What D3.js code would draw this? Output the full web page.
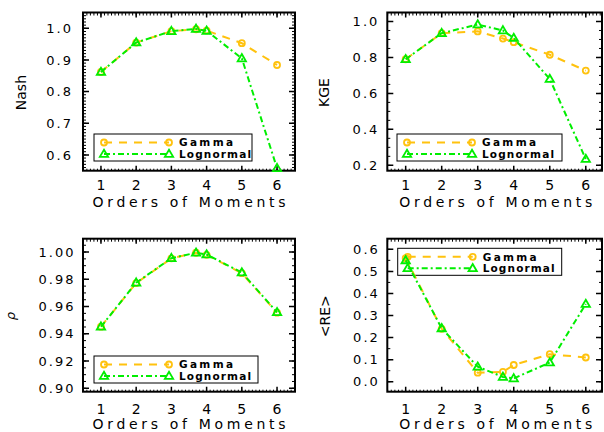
<!DOCTYPE html>
<html>
<head>
<meta charset="utf-8">
<title>Orders of Moments</title>
<script src="https://d3js.org/d3.v7.min.js"></script>
<style>
    body { margin: 0; background: #fff; }
    svg { display: block; font-family: "DejaVu Sans", sans-serif; }
</style>
</head>
<body>
<div id="chart"></div>
<script>
// data
var orders = [1, 2, 3, 3.7, 4, 5, 6];
var xTicks = [1, 2, 3, 4, 5, 6];

var nashGamma     = [0.862, 0.955, 0.991, 0.997, 0.993, 0.953, 0.884];
var nashLognormal = [0.862, 0.955, 0.991, 0.998, 0.992, 0.905, 0.558];
var kgeGamma      = [0.790, 0.935, 0.945, 0.905, 0.885, 0.815, 0.727];
var kgeLognormal  = [0.790, 0.935, 0.983, 0.950, 0.908, 0.680, 0.235];
var rhoGamma      = [0.9452, 0.9772, 0.9954, 0.9995, 0.9980, 0.9845, 0.9555];
var rhoLognormal  = [0.9452, 0.9775, 0.9955, 0.9995, 0.9982, 0.9850, 0.9558];
var reGamma       = [0.560, 0.240, 0.041, 0.045, 0.076, 0.125, 0.110];
var reLognormal   = [0.550, 0.242, 0.068, 0.022, 0.015, 0.087, 0.352];

var nashTicks = [0.6, 0.7, 0.8, 0.9, 1.0];
var kgeTicks  = [0.2, 0.4, 0.6, 0.8, 1.0];
var rhoTicks  = [0.90, 0.92, 0.94, 0.96, 0.98, 1.00];
var reTicks   = [0.0, 0.1, 0.2, 0.3, 0.4, 0.5, 0.6];

var seriesNames = ["Gamma", "Lognormal"];
var gammaColor = "#ffc20e";
var lognColor = "#00ee00";

var width = 604, height = 432;

// panel layout (box in pixels + axis domains)
var panels = [
    { title: "Nash", gamma: nashGamma, logn: nashLognormal, ticks: nashTicks, fmt: ".1f", minor: 10,
      left: 83, right: 295, top: 12.5, bottom: 170.7, xdom: [0.49, 6.51], ydom: [0.55, 1.05],
      labelGap: 10, titleX: 21, titleFont: 14, tickDy: 19.5, xTitleDy: 36, legendTop: 134, legendX: 94, legendW: 158 },
    { title: "KGE", gamma: kgeGamma, logn: kgeLognormal, ticks: kgeTicks, fmt: ".1f", minor: 4,
      left: 387.3, right: 602, top: 12.5, bottom: 170.7, xdom: [0.49, 6.45], ydom: [0.17, 1.05],
      labelGap: 8, titleX: 324, titleFont: 14, tickDy: 19.5, xTitleDy: 36, legendTop: 134, legendX: 397, legendW: 165 },
    { title: "ρ", gamma: rhoGamma, logn: rhoLognormal, ticks: rhoTicks, fmt: ".2f", minor: 4,
      left: 83, right: 295, top: 238.7, bottom: 391.7, xdom: [0.49, 6.51], ydom: [0.8975, 1.0098],
      labelGap: 7.5, titleX: 10, titleFont: 13, italic: true, tickDy: 22.5, xTitleDy: 37.5, legendTop: 356, legendX: 94, legendW: 164 },
    { title: "<RE>", gamma: reGamma, logn: reLognormal, ticks: reTicks, fmt: ".1f", minor: 2,
      left: 387.3, right: 602, top: 238.7, bottom: 391.7, xdom: [0.49, 6.45], ydom: [-0.045, 0.648],
      labelGap: 7.5, titleX: 325, titleFont: 14, tickDy: 22.5, xTitleDy: 37.5, legendTop: 248.3, legendX: 397.7, legendW: 164 }
];

var svg = d3.select("#chart").append("svg")
    .attr("width", width)
    .attr("height", height);

var triangle = d3.symbol().type(d3.symbolTriangle).size(30);

panels.forEach(function(p) {
    var x = d3.scaleLinear().domain(p.xdom).range([p.left, p.right]);
    var y = d3.scaleLinear().domain(p.ydom).range([p.bottom, p.top]);
    var g = svg.append("g");

    // minor ticks
    var yStep = p.ticks[1] - p.ticks[0];
    var yMinor = d3.range(Math.ceil(p.ydom[0] / (yStep / p.minor)), Math.floor(p.ydom[1] / (yStep / p.minor)) + 1)
        .map(function(i) { return i * yStep / p.minor; });
    var xMinor = d3.range(Math.ceil(p.xdom[0] * 10), Math.floor(p.xdom[1] * 10) + 1)
        .map(function(i) { return i / 10; });

    g.selectAll(".ymin").data(yMinor).enter().append("path")
        .attr("d", function(d) {
            var yy = y(d);
            return "M" + p.left + "," + yy + "h3M" + p.right + "," + yy + "h-3";
        })
        .attr("stroke", "#000").attr("stroke-width", 1);
    g.selectAll(".xmin").data(xMinor).enter().append("path")
        .attr("d", function(d) {
            var xx = x(d);
            return "M" + xx + "," + p.top + "v3M" + xx + "," + p.bottom + "v-2";
        })
        .attr("stroke", "#000").attr("stroke-width", 1);

    // major ticks
    g.selectAll(".ymaj").data(p.ticks).enter().append("path")
        .attr("d", function(d) {
            var yy = y(d);
            return "M" + p.left + "," + yy + "h6M" + p.right + "," + yy + "h-6";
        })
        .attr("stroke", "#000").attr("stroke-width", 1.5);
    g.selectAll(".xmaj").data(xTicks).enter().append("path")
        .attr("d", function(d) {
            var xx = x(d);
            return "M" + xx + "," + p.top + "v5M" + xx + "," + p.bottom + "v-5";
        })
        .attr("stroke", "#000").attr("stroke-width", 1.5);

    // frame
    g.append("rect")
        .attr("x", p.left).attr("y", p.top)
        .attr("width", p.right - p.left).attr("height", p.bottom - p.top)
        .attr("fill", "none").attr("stroke", "#000").attr("stroke-width", 2);

    // tick labels
    var fmt = d3.format(p.fmt);
    g.selectAll(".ylab").data(p.ticks).enter().append("text")
        .attr("x", p.left - p.labelGap)
        .attr("y", function(d) { return y(d); })
        .attr("dy", "0.36em")
        .attr("text-anchor", "end")
        .attr("font-size", 13)
        .attr("letter-spacing", 2)
        .text(function(d) { return fmt(d); });
    g.selectAll(".xlab").data(xTicks).enter().append("text")
        .attr("x", function(d) { return x(d); })
        .attr("y", p.bottom + p.tickDy)
        .attr("text-anchor", "middle")
        .attr("font-size", 14)
        .text(function(d) { return d; });

    g.append("text")
        .attr("x", (x(1) + x(6)) / 2)
        .attr("y", p.bottom + p.xTitleDy)
        .attr("text-anchor", "middle")
        .attr("font-size", 14)
        .attr("textLength", 193)
        .attr("lengthAdjust", "spacing")
        .text("Orders of Moments");

    var cy = (p.top + p.bottom) / 2 + 1;
    g.append("text")
        .attr("transform", "translate(" + p.titleX + "," + cy + ") rotate(-90)")
        .attr("dy", "0.36em")
        .attr("text-anchor", "middle")
        .attr("font-size", p.titleFont)
        .attr("font-style", p.italic ? "italic" : null)
        .text(p.title);

    // legend frame first, no fill, so data stays visible through it
    var lg = g.append("g");
    lg.append("rect")
        .attr("x", p.legendX).attr("y", p.legendTop)
        .attr("width", p.legendW).attr("height", 27)
        .attr("fill", "none").attr("stroke", "#000").attr("stroke-width", 1);

    // series
    var line = d3.line()
        .x(function(d) { return x(d[0]); })
        .y(function(d) { return y(d[1]); });
    var gPts = orders.map(function(o, i) { return [o, p.gamma[i]]; });
    var lPts = orders.map(function(o, i) { return [o, p.logn[i]]; });

    g.append("path").datum(gPts)
        .attr("d", line).attr("fill", "none")
        .attr("stroke", gammaColor).attr("stroke-width", 2)
        .attr("stroke-dasharray", "8,7");
    g.selectAll(".gmk").data(gPts).enter().append("circle")
        .attr("cx", function(d) { return x(d[0]); })
        .attr("cy", function(d) { return y(d[1]); })
        .attr("r", 3).attr("fill", "none")
        .attr("stroke", gammaColor).attr("stroke-width", 1.8);

    g.append("path").datum(lPts)
        .attr("d", line).attr("fill", "none")
        .attr("stroke", lognColor).attr("stroke-width", 2)
        .attr("stroke-dasharray", "6,3,2,3");
    g.selectAll(".lmk").data(lPts).enter().append("path")
        .attr("transform", function(d) { return "translate(" + x(d[0]) + "," + (y(d[1]) + 0.5) + ")"; })
        .attr("d", triangle).attr("fill", "none")
        .attr("stroke", lognColor).attr("stroke-width", 1.8);

    var lx0 = p.legendX + 10, lx1 = p.legendX + 75, tx = p.legendX + 85;
    seriesNames.forEach(function(name, i) {
        var ry = p.legendTop + 8.5 + i * 11.5;
        var col = i === 0 ? gammaColor : lognColor;
        lg.append("line")
            .attr("x1", lx0).attr("x2", lx1).attr("y1", ry).attr("y2", ry)
            .attr("stroke", col).attr("stroke-width", 2)
            .attr("stroke-dasharray", i === 0 ? "8,7" : "6,3,2,3");
        [lx0, lx1].forEach(function(mx) {
            if (i === 0) {
                lg.append("circle").attr("cx", mx).attr("cy", ry).attr("r", 3)
                    .attr("fill", "none").attr("stroke", col).attr("stroke-width", 1.8);
            } else {
                lg.append("path").attr("transform", "translate(" + mx + "," + (ry + 0.5) + ")")
                    .attr("d", triangle).attr("fill", "none")
                    .attr("stroke", col).attr("stroke-width", 1.8);
            }
        });
        lg.append("text")
            .attr("x", tx).attr("y", ry)
            .attr("dy", "0.36em")
            .attr("font-size", 10.5)
            .attr("font-weight", "bold")
            .attr("textLength", i === 0 ? 54 : 72)
            .attr("lengthAdjust", "spacing")
            .text(name);
    });
});
</script>
</body>
</html>
